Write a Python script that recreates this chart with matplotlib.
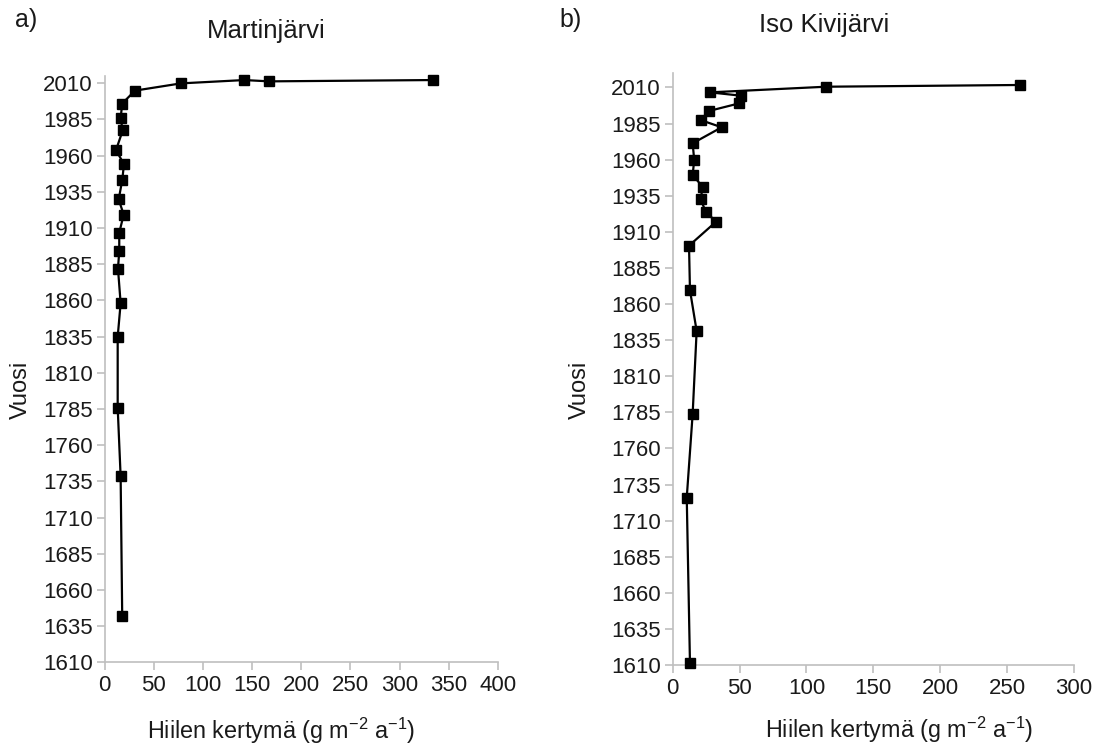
import matplotlib
matplotlib.use('Agg')
import matplotlib.pyplot as plt

# Martinjärvi (a)
mart_val = [333.5, 167.5, 142, 77.7, 31, 18, 16.4, 18.5, 11.7, 19.8, 18, 14.4, 19.5,
            15, 15, 13.7, 16.4, 13.4, 13.4, 16.4, 18]
mart_year = [2012.2, 2011.3, 2012.2, 2009.9, 2004.9, 1996, 1985.7, 1977.4, 1963.8, 1954,
             1943, 1929.7, 1919.3, 1906.7, 1894, 1882, 1858, 1834.8, 1786, 1738.4, 1642.2]

# Iso Kivijärvi (b)
iso_val = [259.6, 114.6, 27.9, 50.8, 49.8, 27.1, 20.9, 36.6, 14.9, 16.1, 14.9, 22.4,
           20.9, 24.7, 32.4, 12.2, 12.9, 17.9, 14.9, 10.5, 12.9]
iso_year = [2011.7, 2010.5, 2006.6, 2004.3, 1999, 1993.7, 1987.4, 1982.4, 1971.3, 1959.7,
            1949.3, 1941.2, 1932.5, 1923.9, 1917, 1900.4, 1869.7, 1841.3, 1783.6, 1725.9,
            1611.6]

year_ticks = list(range(1610, 2011, 25))
mart_xticks = list(range(0, 401, 50))
iso_xticks = list(range(0, 301, 50))

plt.rcParams['font.family'] = ['Liberation Sans', 'DejaVu Sans']
plt.rcParams['mathtext.fontset'] = 'custom'
plt.rcParams['mathtext.rm'] = 'Liberation Sans'
plt.rcParams['mathtext.default'] = 'regular'

W, H = 1106, 749
fig = plt.figure(figsize=(W / 100, H / 100), dpi=100)

grey = '#bfbfbf'
txt = '#1a1a1a'


def px(x, y):
    # pixel position -> figure fraction
    return x / W, 1 - y / H


def setup(ax, xticks, xlim, ylim):
    ax.set_xlim(*xlim)
    ax.set_ylim(*ylim)
    ax.set_xticks(xticks)
    ax.set_yticks(year_ticks)
    for s in ['top', 'right']:
        ax.spines[s].set_visible(False)
    for s in ['left', 'bottom']:
        ax.spines[s].set_color(grey)
        ax.spines[s].set_linewidth(1.2)
    ax.tick_params(axis='both', colors=grey, labelcolor=txt, labelsize=16,
                   length=5.5, width=1.2, direction='out')
    ax.tick_params(axis='x', pad=4)
    ax.tick_params(axis='y', pad=3)


xlab = r'Hiilen kertymä (g m$^{-2}$ a$^{-1}$)'

# a) Martinjärvi
ax1 = fig.add_axes([104.5 / W, 1 - 662.3 / H, 393.5 / W, (662.3 - 76) / H])
ax1.plot(mart_val, mart_year, color='black', linewidth=1.6, marker='s',
         markersize=6.5, clip_on=False, zorder=5)
setup(ax1, mart_xticks, (0, 400), (1610, 2015))

# b) Iso Kivijärvi
ax2 = fig.add_axes([672.7 / W, 1 - 665 / H, 401.3 / W, (665 - 73) / H])
ax2.plot(iso_val, iso_year, color='black', linewidth=1.6, marker='s',
         markersize=6.5, clip_on=False, zorder=5)
setup(ax2, iso_xticks, (0, 300), (1610, 2020))

# texts
fig.text(*px(26, 20), 'a)', fontsize=18, color=txt, ha='center', va='center')
fig.text(*px(571, 20), 'b)', fontsize=18, color=txt, ha='center', va='center')
fig.text(*px(266, 31), 'Martinjärvi', fontsize=18.5, color=txt, ha='center', va='center')
fig.text(*px(824, 25), 'Iso Kivijärvi', fontsize=18.5, color=txt, ha='center', va='center')
fig.text(*px(281, 731), xlab, fontsize=16.8, color=txt, ha='center', va='center')
fig.text(*px(899, 730), xlab, fontsize=16.8, color=txt, ha='center', va='center')
fig.text(*px(21, 390), 'Vuosi', fontsize=17, color=txt, ha='center', va='center',
         rotation=90)
fig.text(*px(580, 390), 'Vuosi', fontsize=17, color=txt, ha='center', va='center',
         rotation=90)

fig.savefig('out.png', dpi=100)
